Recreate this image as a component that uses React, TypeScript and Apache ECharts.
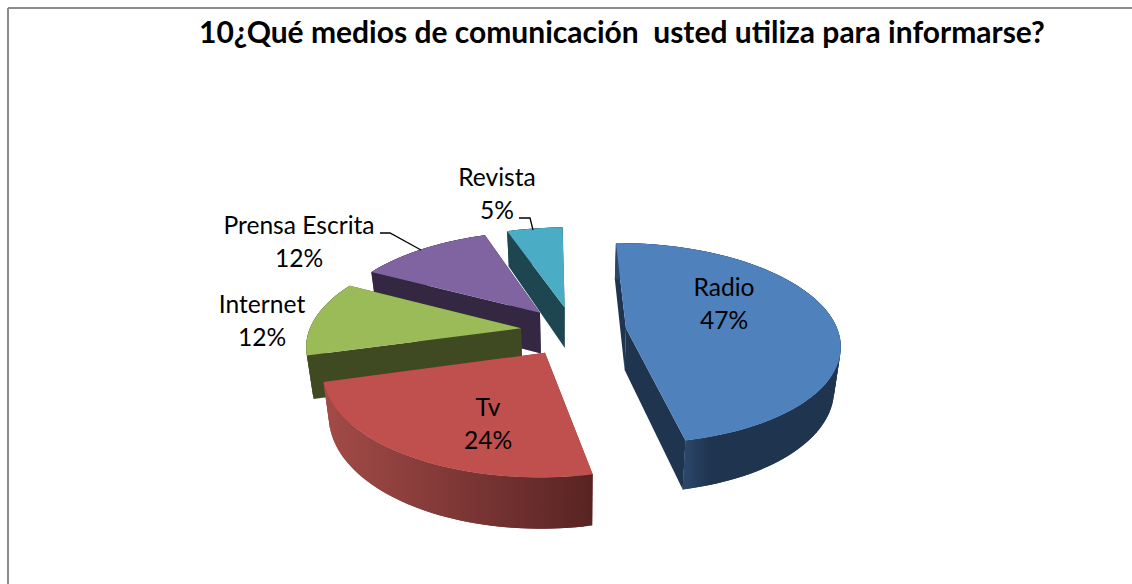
import React, { useEffect, useRef } from "react";
import * as echarts from "echarts";

const categories = ["Radio", "Tv", "Internet", "Prensa Escrita", "Revista"];
const percentages = [47, 24, 12, 12, 5];
const topColors = ["#4F81BD", "#C0504D", "#9BBB59", "#8064A2", "#4BACC6"];
const wallColors = ["#1F344F", "#7A3432", "#404A22", "#332742", "#1D4650"];
const rimStops: [number, string][][] = [
  [[0, "#2B4669"], [0.31, "#2B4669"], [0.42, "#1F344F"], [1, "#1F344F"]],
  [[0, "#A34B48"], [1, "#582423"]],
  [[0, "#404A22"], [1, "#404A22"]],
  [[0, "#332742"], [1, "#332742"]],
  [[0, "#1D4650"], [1, "#1D4650"]],
];
const drawOrder = [4, 3, 2, 0, 1];
const titleText = "10¿Qué medios de comunicación  usted utiliza para informarse?";

const CX = 573.5, CY = 331, RX = 212, RY = 98.7, K = 0.15, EXPLODE = 0.25, DEPTH = 42, SHRINK = 0.975;
const START_DEG = -1;
const LABEL_XY: number[][] = [[724, 303], [488, 423], [262, 320], [299, 241], [497, 193]];
const LEADERS: number[][][] = [
  [], [], [],
  [[380, 233], [390, 233], [421, 250]],
  [[519, 218], [530, 218], [533, 230]],
];

function project(u: number, v: number, low: boolean): number[] {
  const w = 1 + K * v;
  const x = (RX * u) / w;
  const y = (-RY * v) / w;
  if (!low) return [CX + x, CY + y];
  return [CX + x * SHRINK, CY + y + DEPTH / w];
}

const total = percentages.reduce((a, b) => a + b, 0);

function sliceGeometry(index: number) {
  let before = 0;
  for (let i = 0; i < index; i++) before += percentages[i];
  const a0 = ((START_DEG + (before / total) * 360) * Math.PI) / 180;
  const a1 = ((START_DEG + ((before + percentages[index]) / total) * 360) * Math.PI) / 180;
  const mid = (a0 + a1) / 2;
  const ax = EXPLODE * Math.sin(mid);
  const av = EXPLODE * Math.cos(mid);
  const rim: number[][] = [];
  const steps = Math.max(12, Math.round(percentages[index] * 2));
  for (let s = 0; s <= steps; s++) {
    const a = a0 + ((a1 - a0) * s) / steps;
    rim.push([ax + Math.sin(a), av + Math.cos(a)]);
  }
  return { apex: [ax, av], rim };
}

function renderSlice(_params: any, api: any) {
  const index = api.value(0);
  const { apex, rim } = sliceGeometry(index);
  const topApex = project(apex[0], apex[1], false);
  const lowApex = project(apex[0], apex[1], true);
  const topRim = rim.map((p) => project(p[0], p[1], false));
  const lowRim = rim.map((p) => project(p[0], p[1], true));
  const wall = wallColors[index];
  const last = rim.length - 1;
  const xs = topRim.map((p) => p[0]);
  const minX = Math.min(...xs);
  const maxX = Math.max(...xs);
  const rimFill = new echarts.graphic.LinearGradient(
    minX, 0, maxX, 0,
    rimStops[index].map(([offset, color]) => ({ offset, color })),
    true
  );
  const children: any[] = [
    {
      type: "polygon",
      shape: { points: [topApex, topRim[0], lowRim[0], lowApex] },
      style: { fill: wall },
    },
    {
      type: "polygon",
      shape: { points: [topApex, topRim[last], lowRim[last], lowApex] },
      style: { fill: wall },
    },
  ];
  for (let i = 0; i < last; i++) {
    const j = Math.min(i + 2, last);
    children.push({
      type: "polygon",
      shape: { points: [topRim[i], topRim[j], lowRim[j], lowRim[i]] },
      style: { fill: rimFill },
    });
  }
  children.push({
    type: "polygon",
    shape: { points: [topApex, ...topRim] },
    style: { fill: topColors[index] },
  });
  if (LEADERS[index].length) {
    children.push({
      type: "polyline",
      shape: { points: LEADERS[index] },
      style: { stroke: "#000", lineWidth: 1.3, fill: "none" },
    });
  }
  children.push({
    type: "text",
    x: LABEL_XY[index][0],
    y: LABEL_XY[index][1],
    style: {
      text: `${categories[index]}\n${percentages[index]}%`,
      fill: "#000",
      font: "24.6px Lato",
      lineHeight: 33,
      align: "center",
      verticalAlign: "middle",
    },
  });
  return { type: "group", children };
}

export default function App() {
  const ref = useRef<HTMLDivElement>(null);
  useEffect(() => {
    const chart = echarts.init(ref.current!, null, { renderer: "svg" });
    chart.setOption({
      animation: false,
      backgroundColor: "#fff",
      title: {
        text: titleText,
        left: 194,
        top: 11,
        padding: 5,
        textStyle: { fontFamily: "Lato", fontWeight: "bold", fontSize: 30, color: "#000" },
      },
      graphic: [
        { type: "line", shape: { x1: 8, y1: 8, x2: 1132, y2: 8 }, style: { stroke: "#8C8C8C", lineWidth: 2 } },
        { type: "line", shape: { x1: 8, y1: 8, x2: 8, y2: 584 }, style: { stroke: "#8C8C8C", lineWidth: 2 } },
      ],
      series: [
        {
          type: "custom",
          coordinateSystem: "none",
          renderItem: renderSlice,
          data: drawOrder.map((i) => ({ name: categories[i], value: [i, percentages[i]] })),
          silent: true,
        },
      ],
    });
    return () => chart.dispose();
  }, []);
  return <div ref={ref} style={{ position: "absolute", left: 0, top: 0, width: 1132, height: 584 }} />;
}
